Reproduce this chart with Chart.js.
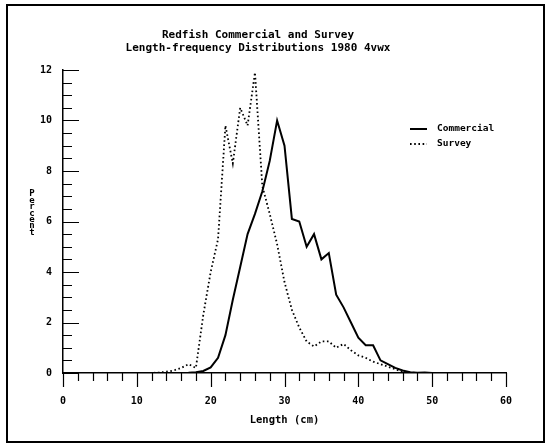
<!DOCTYPE html>
<html>
<head>
<meta charset="utf-8">
<title>Redfish length-frequency</title>
<script src="https://cdn.jsdelivr.net/npm/chart.js@4/dist/chart.umd.min.js"></script>
<style>
    html, body { margin: 0; padding: 0; background: #ffffff; }
    #lf-chart { display: block; }
</style>
</head>
<body>
<canvas id="lf-chart" width="548" height="447"></canvas>
<script>
// Length classes (cm)
const lengths = [10, 11, 12, 13, 14, 15, 16, 17, 18, 19, 20, 21, 22, 23, 24, 25, 26, 27, 28, 29,
                 30, 31, 32, 33, 34, 35, 36, 37, 38, 39, 40, 41, 42, 43, 44, 45, 46, 47, 48, 49, 50];

// Percent at length
const commercial = [0, 0, 0, 0, 0, 0, 0, 0.01, 0.03, 0.08, 0.22, 0.6, 1.5, 2.9, 4.2, 5.5, 6.3, 7.2, 8.4, 10.0,
                    9.0, 6.1, 6.0, 5.0, 5.5, 4.5, 4.75, 3.1, 2.6, 2.0, 1.4, 1.1, 1.1, 0.5, 0.35, 0.2, 0.1, 0.03, 0.01, 0.02, 0];
const survey = [0, 0, 0, 0.02, 0.05, 0.1, 0.2, 0.35, 0.2, 2.3, 4.0, 5.3, 9.8, 8.3, 10.5, 9.8, 11.9, 7.4, 6.3, 5.1,
                3.6, 2.5, 1.8, 1.25, 1.05, 1.25, 1.25, 1.0, 1.15, 0.9, 0.7, 0.6, 0.45, 0.35, 0.25, 0.15, 0.05, 0.02, 0, 0, 0];

const titleLines = ['Redfish Commercial and Survey', 'Length-frequency Distributions 1980 4vwx'];
const xTicks = [0, 10, 20, 30, 40, 50, 60];
const yTicks = [0, 2, 4, 6, 8, 10, 12];

const MONO = '"DejaVu Sans Mono", "Liberation Mono", monospace';

// inward ticks on the y axis, outward ticks on the x axis, stacked y title, legend and frame
const decorations = {
    id: 'decorations',
    afterDraw: function(chart) {
        const ctx = chart.ctx;
        const xs = chart.scales.x;
        const ys = chart.scales.y;
        const area = chart.chartArea;

        ctx.save();
        ctx.strokeStyle = '#000';
        ctx.lineWidth = 1.2;
        ctx.beginPath();
        for (let v = 0; v <= 12; v += 0.5) {
            let py = Math.round(ys.getPixelForValue(v)) + 0.5;
            let len = (v % 2 === 0) ? 16 : 9;
            ctx.moveTo(area.left, py);
            ctx.lineTo(area.left + len, py);
        }
        for (let v = 0; v <= 60; v += 2) {
            let px = Math.round(xs.getPixelForValue(v)) + 0.5;
            let len = (v % 10 === 0) ? 14 : 8;
            ctx.moveTo(px, area.bottom);
            ctx.lineTo(px, area.bottom + len);
        }
        ctx.stroke();

        // y title, one letter per line
        ctx.fillStyle = '#000';
        ctx.font = 'bold 9px ' + MONO;
        ctx.textAlign = 'center';
        ctx.textBaseline = 'middle';
        let word = 'Percent';
        for (let i = 0; i < word.length; i++) {
            ctx.fillText(word[i], 32, 194 + i * 6.4);
        }

        // legend
        ctx.font = 'bold 9.5px ' + MONO;
        ctx.textAlign = 'left';
        chart.data.datasets.forEach(function(ds, i) {
            let ly = 129 + i * 15;
            ctx.beginPath();
            ctx.lineWidth = ds.borderWidth;
            ctx.setLineDash(ds.borderDash || []);
            ctx.moveTo(410, ly);
            ctx.lineTo(427, ly);
            ctx.stroke();
            ctx.setLineDash([]);
            ctx.fillText(ds.label, 437, ly);
        });

        // outer frame
        ctx.lineWidth = 2;
        ctx.strokeRect(7, 5, 537, 437);
        ctx.restore();
    }
};

let lfChart = new Chart(document.getElementById('lf-chart'), {
    type: 'line',
    data: {
        labels: lengths,
        datasets: [{
            label: 'Commercial',
            data: commercial,
            borderColor: '#000',
            borderWidth: 2,
            pointRadius: 0,
            tension: 0,
            fill: false
        }, {
            label: 'Survey',
            data: survey,
            borderColor: '#000',
            borderWidth: 1.8,
            borderDash: [1.6, 2.6],
            pointRadius: 0,
            tension: 0,
            fill: false
        }]
    },
    options: {
        responsive: false,
        animation: false,
        devicePixelRatio: 1,
        layout: {
            padding: { left: 10, right: 42, top: 0, bottom: 0 }
        },
        plugins: {
            legend: { display: false },
            tooltip: { enabled: false },
            title: {
                display: true,
                text: titleLines,
                color: '#000',
                font: { family: MONO, size: 11, weight: 'bold', lineHeight: 13 / 11 },
                padding: { top: 29, bottom: 15 }
            }
        },
        scales: {
            x: {
                type: 'linear',
                min: 0,
                max: 60,
                afterFit: function(scale) { scale.height = 74; },
                afterBuildTicks: function(scale) {
                    scale.ticks = xTicks.map(function(v) { return { value: v }; });
                },
                grid: { display: false, drawTicks: false },
                border: { display: true, color: '#000', width: 1.5 },
                ticks: {
                    color: '#000',
                    padding: 22,
                    maxRotation: 0,
                    font: { family: MONO, size: 10, weight: 'bold' }
                },
                title: {
                    display: true,
                    text: 'Length (cm)',
                    color: '#000',
                    font: { family: MONO, size: 10.5, weight: 'bold' },
                    padding: { top: 0, bottom: 20 }
                }
            },
            y: {
                min: 0,
                max: 12,
                afterFit: function(scale) { scale.width = 53; },
                afterBuildTicks: function(scale) {
                    scale.ticks = yTicks.map(function(v) { return { value: v }; });
                },
                grid: { display: false, drawTicks: false },
                border: { display: true, color: '#000', width: 1.5 },
                ticks: {
                    color: '#000',
                    padding: 11,
                    font: { family: MONO, size: 10, weight: 'bold' }
                }
            }
        }
    },
    plugins: [decorations]
});
</script>
</body>
</html>
